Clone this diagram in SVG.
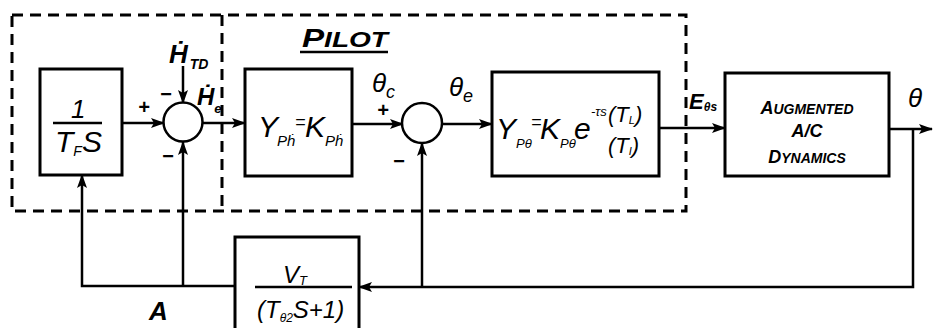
<svg xmlns="http://www.w3.org/2000/svg" width="936" height="328" viewBox="0 0 936 328">
<defs>
<marker id="ah" viewBox="0 0 14 10" refX="13" refY="5" markerWidth="14" markerHeight="10" markerUnits="userSpaceOnUse" orient="auto">
<path d="M0,0 L14,5 L0,10 L3,5 Z" fill="#000"/>
</marker>
<style>
.box{fill:#fff;stroke:#000;stroke-width:3}
.sum{fill:#fff;stroke:#000;stroke-width:2.5}
.dash{fill:none;stroke:#000;stroke-width:3;stroke-dasharray:11 7}
.ln{fill:none;stroke:#000;stroke-width:2.5}
.arr{fill:none;stroke:#000;stroke-width:2.5;marker-end:url(#ah)}
.t{font-family:"Liberation Sans",Arial,sans-serif;font-style:italic;fill:#000}
.b{font-weight:bold}
</style>
</defs>
<rect width="936" height="328" fill="#fff"/>
<g id="boundaries">
<path class="dash" d="M12,15 H686 V211 H12 Z"/>
<path class="dash" d="M222,15 V211"/>
</g>
<g id="connectors">
<path class="arr" d="M122,123 H164"/>
<path class="arr" d="M183,66 V103"/>
<path class="arr" d="M202,123 H245"/>
<path class="arr" d="M352,124 H403"/>
<path class="arr" d="M442,124 H492"/>
<path class="arr" d="M659,128 H725"/>
<path class="arr" d="M889,129 H932"/>
<path class="arr" d="M913,129 V287 H359"/>
<path class="arr" d="M422,287 V143"/>
<path class="arr" d="M235,286 H82 V175"/>
<path class="arr" d="M183,286 V142"/>
</g>
<g id="pilot-label">
<text class="t b" x="302" y="47" font-size="22" textLength="86" lengthAdjust="spacingAndGlyphs"><tspan font-size="26">P</tspan>ILOT</text>
<path class="ln" d="M300,52 H388" stroke-width="3"/>
</g>
<g id="integrator">
<rect class="box" x="40" y="69" width="82" height="106"/>
<text class="t" x="71" y="118" font-size="26">1</text>
<path class="ln" d="M53,123 H102"/>
<text class="t" x="55" y="152" font-size="30">T<tspan font-size="14" dy="4">F</tspan><tspan dy="-4">S</tspan></text>
</g>
<g id="sum1">
<circle class="sum" cx="183" cy="122" r="19.5"/>
<text class="t b" x="138" y="114" font-size="20">+</text>
<text class="t b" x="160" y="101" font-size="20">−</text>
<text class="t b" x="162" y="163" font-size="20">−</text>
</g>
<g id="htd-label">
<text class="t b" x="169" y="63" font-size="26">Ḣ<tspan font-size="14" dx="2" dy="6">TD</tspan></text>
</g>
<g id="he-label">
<text class="t b" x="197" y="105" font-size="24">Ḣ<tspan font-size="13" dy="8">e</tspan></text>
</g>
<g id="pilot-gain">
<rect class="box" x="245" y="69" width="107" height="107"/>
<text class="t" x="258" y="137" font-size="30">Y</text>
<text class="t" x="277" y="146" font-size="15">Pḣ</text>
<text class="t" x="295" y="128" font-size="18">=</text>
<text class="t" x="305" y="137" font-size="30">K</text>
<text class="t" x="325" y="146" font-size="15">Pḣ</text>
</g>
<g id="sum2">
<circle class="sum" cx="422" cy="123" r="20"/>
<text class="t" x="372" y="92" font-size="26">θ<tspan font-size="18" dy="6">c</tspan></text>
<text class="t b" x="377" y="117" font-size="20">+</text>
<text class="t b" x="393" y="168" font-size="20">−</text>
</g>
<g id="theta-e">
<text class="t" x="449" y="96" font-size="26">θ<tspan font-size="18" dy="6">e</tspan></text>
</g>
<g id="pilot-dynamics">
<rect class="box" x="492" y="72" width="167" height="104"/>
<text class="t" x="496" y="139" font-size="30">Y</text>
<text class="t" x="516" y="148" font-size="13">Pθ</text>
<text class="t" x="531" y="128" font-size="18">=</text>
<text class="t" x="540" y="139" font-size="30">K</text>
<text class="t" x="560" y="148" font-size="13">Pθ</text>
<text class="t" x="574" y="139" font-size="30">e</text>
<text class="t" x="591" y="116" font-size="13">-τs</text>
<text class="t" x="608" y="122" font-size="22">(T<tspan font-size="11" dy="2">L</tspan><tspan dy="-2">)</tspan></text>
<text class="t" x="608" y="153" font-size="22">(T<tspan font-size="11" dy="2">I</tspan><tspan dy="-2">)</tspan></text>
</g>
<g id="ees-label">
<text class="t b" x="689" y="109" font-size="22">E<tspan font-size="12" dy="2">θs</tspan></text>
</g>
<g id="aircraft">
<rect class="box" x="725" y="73" width="164" height="103"/>
<text class="t b" x="807" y="114" font-size="14" text-anchor="middle"><tspan font-size="18">A</tspan>UGMENTED</text>
<text class="t b" x="807" y="137" font-size="18" text-anchor="middle">A/C</text>
<text class="t b" x="807" y="163" font-size="14" text-anchor="middle"><tspan font-size="18">D</tspan>YNAMICS</text>
</g>
<g id="theta-out">
<text class="t" x="908" y="107" font-size="26">θ</text>
</g>
<g id="a-label">
<text class="t b" x="149" y="320" font-size="26">A</text>
</g>
<g id="feedback">
<rect class="box" x="235" y="237" width="124" height="110"/>
<text class="t" x="283" y="283" font-size="24">V<tspan font-size="13" dy="2">T</tspan></text>
<path class="ln" d="M255,287 H352"/>
<text class="t" x="257" y="318" font-size="24">(T<tspan font-size="12" dy="4">θ2</tspan><tspan dy="-4">S+1)</tspan></text>
</g>
</svg>
